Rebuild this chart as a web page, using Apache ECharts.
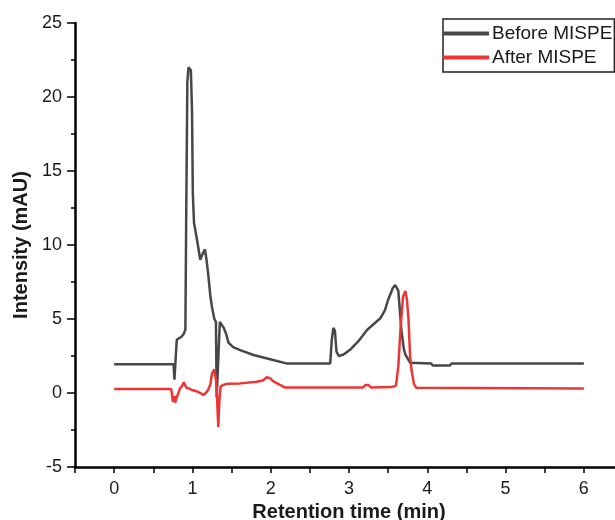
<!DOCTYPE html>
<html>
<head>
<meta charset="utf-8">
<script src="https://cdn.jsdelivr.net/npm/echarts@6/dist/echarts.min.js"></script>
<style>html,body{margin:0;padding:0;background:#fff}#c{width:615px;height:520px}</style>
</head>
<body>
<div id="c"></div>
<script>
// Retention time (min) and intensity (mAU)
const timeBefore = [0,0.76,0.77,0.79,0.80,0.86,0.89,0.91,0.92,0.935,0.95,0.98,0.995,1.005,1.02,1.06,1.10,1.13,1.16,1.18,1.20,1.23,1.25,1.28,1.30,1.31,1.33,1.35,1.37,1.40,1.43,1.46,1.52,1.61,1.78,2.03,2.2,2.76,2.78,2.80,2.82,2.84,2.87,2.93,3.01,3.12,3.23,3.40,3.46,3.50,3.56,3.59,3.63,3.67,3.70,3.72,3.78,4.05,4.07,4.29,4.31,6.0];
const before =     [1.95,1.95,0.9,0.9,3.6,3.8,4.0,4.3,11.5,21.0,22.0,21.8,19.0,13.5,11.5,10.3,9.0,9.4,9.7,9.0,8.1,6.5,5.8,5.0,4.8,-0.3,-0.3,4.8,4.7,4.4,4.0,3.4,3.1,2.9,2.57,2.23,2.0,2.0,3.6,4.4,4.2,2.8,2.5,2.6,2.9,3.5,4.26,5.05,5.6,6.3,7.1,7.3,6.9,4.2,3.0,2.6,2.05,2.0,1.85,1.85,2.0,2.0];
const timeAfter = [0,0.73,0.75,0.77,0.78,0.80,0.81,0.84,0.87,0.89,0.91,0.93,0.96,0.99,1.03,1.06,1.10,1.14,1.17,1.20,1.23,1.25,1.28,1.30,1.31,1.33,1.345,1.36,1.39,1.44,1.61,1.82,1.90,1.95,1.99,2.03,2.10,2.18,3.18,3.21,3.25,3.28,3.55,3.60,3.63,3.66,3.69,3.72,3.74,3.76,3.78,3.80,3.83,3.86,6.0];
const after =     [0.27,0.27,-0.6,-0.2,-0.65,-0.3,-0.4,0.3,0.5,0.72,0.5,0.32,0.3,0.2,0.15,0.09,0.0,-0.13,0.0,0.2,0.6,1.33,1.6,0.9,0.3,-2.3,-0.5,0.43,0.54,0.62,0.65,0.76,0.85,1.06,1.0,0.8,0.6,0.38,0.38,0.54,0.54,0.38,0.4,0.5,1.8,4.5,6.5,6.9,6.3,5.0,2.5,1.5,0.6,0.35,0.3];
const seriesNames = ['Before MISPE', 'After MISPE'];
const xRange = [-0.5, 6.5];   // ticks every half-minute, labels on whole minutes
const xLabelled = [0, 1, 2, 3, 4, 5, 6];
const yRange = [-5, 25];      // ticks every 5, minor ticks between

const chart = echarts.init(document.getElementById('c'), null, {renderer: 'canvas'});
const font = 'Liberation Sans, Arial, sans-serif';
const pair = (xs, ys) => xs.map((x, i) => [x, ys[i]]);
const axisLine = {show: true, onZero: false, lineStyle: {color: '#000', width: 2.5}};

chart.setOption({
  animation: false,
  backgroundColor: '#fff',
  grid: {left: 75, top: 23, width: 548, bottom: 53, containLabel: false, outerBoundsMode: 'none'},
  legend: {
    orient: 'vertical', left: 443, top: 19,
    data: seriesNames,
    icon: 'rect', itemWidth: 46, itemHeight: 4, itemGap: 5,
    padding: [5, 2, 5, 0],
    borderColor: '#222', borderWidth: 1.5,
    textStyle: {fontFamily: font, fontSize: 19, color: '#1a1a1a', padding: [0, 0, 0, -2]}
  },
  xAxis: {
    type: 'value', min: xRange[0], max: xRange[1], interval: 0.5,
    name: 'Retention time (min)', nameLocation: 'middle', nameGap: 33,
    nameTextStyle: {fontFamily: font, fontSize: 20, fontWeight: 'bold', color: '#1a1a1a'},
    axisLine: axisLine,
    axisTick: {show: true, length: 6, lineStyle: {color: '#000', width: 1.5}},
    axisLabel: {show: true, margin: 13, fontFamily: font, fontSize: 18, color: '#1a1a1a', hideOverlap: false,
      formatter: v => xLabelled.includes(v) ? String(v) : ''},
    splitLine: {show: false}
  },
  yAxis: {
    type: 'value', min: yRange[0], max: yRange[1], interval: 5,
    name: 'Intensity (mAU)', nameLocation: 'middle', nameGap: 40,
    nameTextStyle: {fontFamily: font, fontSize: 20, fontWeight: 'bold', color: '#1a1a1a'},
    axisLine: axisLine,
    axisTick: {show: true, length: 8, lineStyle: {color: '#000', width: 1.5}},
    minorTick: {show: true, splitNumber: 2, length: 4, lineStyle: {color: '#000', width: 1.5}},
    axisLabel: {show: true, margin: 13, fontFamily: font, fontSize: 18, color: '#1a1a1a'},
    splitLine: {show: false}, minorSplitLine: {show: false}
  },
  series: [{
    name: seriesNames[0], type: 'line', showSymbol: false, symbol: 'none',
    data: pair(timeBefore, before),
    lineStyle: {color: '#474747', width: 2.5}, itemStyle: {color: '#474747'}, z: 2
  }, {
    name: seriesNames[1], type: 'line', showSymbol: false, symbol: 'none',
    data: pair(timeAfter, after),
    lineStyle: {color: '#ee3535', width: 2.5}, itemStyle: {color: '#ee3535'}, z: 3
  }]
});
</script>
</body>
</html>
